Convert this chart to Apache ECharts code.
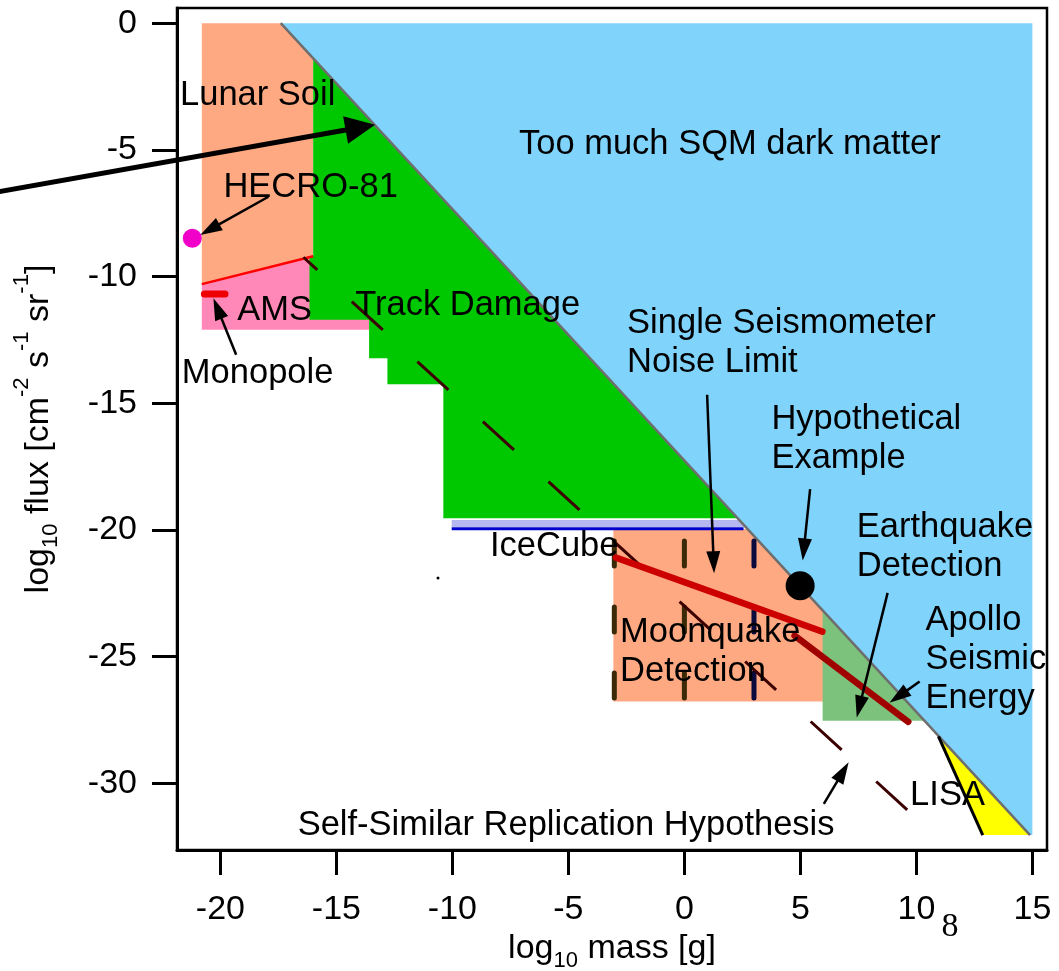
<!DOCTYPE html>
<html>
<head>
<meta charset="utf-8">
<script src="https://cdn.jsdelivr.net/npm/echarts@6/dist/echarts.min.js"></script>
<style>
  html, body { margin: 0; padding: 0; background: #fff; }
  #chart { width: 1059px; height: 971px; }
</style>
</head>
<body>
<div id="chart"></div>
<script>
// Strangelet (SQM) flux limits: log10 flux vs log10 mass
const FONT = '"Liberation Sans", Arial, sans-serif';

const X_TICKS = [-20, -15, -10, -5, 0, 5, 10, 15];
const Y_TICKS = [-30, -25, -20, -15, -10, -5, 0];

// Region outlines, points are [log10 mass (g), log10 flux]
const SQM_DARK_MATTER = [[-17.4, 0], [15, 0], [15, -32.05], [14.9, -32.05]];
const SQM_LIMIT_LINE = [[-17.4, 0], [14.9, -32.05]];
const AMS_BAND = [[-20.8, -10.3], [-16, -9.2], [-13.59, -9.2], [-13.59, -12.1], [-20.8, -12.1]];
const LUNAR_SOIL = [[-20.8, 0], [-17.4, 0], [-16, -1.39], [-16, -9.2], [-20.8, -10.3]];
const TRACK_DAMAGE = [
  [-16, -1.39], [2.29, -19.54], [-10.39, -19.54], [-10.39, -14.25], [-12.8, -14.25],
  [-12.8, -13.23], [-13.59, -13.23], [-13.59, -11.71], [-16.16, -11.71], [-16.16, -9.25], [-16, -9.2]
];
const ICECUBE_BAND = [[-10.03, -19.61], [2.36, -19.61], [2.64, -19.89], [-10.03, -19.89]];
const ICECUBE_LINE = [[-10.03, -19.96], [2.55, -19.96]];
const MOONQUAKE = [[-3.06, -19.97], [2.73, -19.97], [6, -23.22], [6, -26.78], [-3.06, -26.78]];
const EARTHQUAKE = [[5.96, -23.18], [10.35, -27.54], [5.96, -27.54]];
const LISA = [[10.95, -28.15], [12.86, -32.05], [14.9, -32.05]];
const LISA_EDGE = [[10.95, -28.15], [12.86, -32.05]];

// Limit lines
const LUNAR_SOIL_LIMIT = [[-20.8, -10.3], [-16, -9.2]];
const MONOPOLE_AMS = [[-20.69, -10.69], [-19.8, -10.69]];
const SEISMOMETER_NOISE = [[-2.95, -21.1], [5.95, -24.02]];
const APOLLO_ENERGY = [[4.75, -24.18], [9.65, -27.58]];
const SELF_SIMILAR = [[-16.42, -9.24], [9.61, -31.06]];

// Moonquake detection columns (mass positions) and their flux span
const MOONQUAKE_COLUMNS = [-3.02, 0, 3.0];
const COLUMN_SPAN = [-20.44, -26.64];

// Points
const HECRO_81 = [[-21.21, -8.49]];
const HYPOTHETICAL = [[4.99, -22.21]];
const STRAY_DOT = [[-10.62, -21.9]];

// Callout arrows [from, to]
const BIG_ARROW = [[-31, -6.89], [-13.33, -4.01]];
const CALLOUT_ARROWS = [
  [[-17.93, -6.85], [-20.87, -8.36]],   // HECRO-81
  [[-19.32, -13.09], [-20.3, -10.86]],  // Monopole
  [[0.98, -14.67], [1.28, -21.71]],     // Single seismometer
  [[5.42, -18.39], [5.1, -21.21]],      // Hypothetical example
  [[8.76, -22.49], [7.43, -27.41]],     // Earthquake detection
  [[10.14, -25.99], [8.84, -26.83]],    // Apollo seismic energy
  [[6.01, -30.82], [7.08, -29.18]]      // Self-similar replication
];

// Text labels: [text, mass, flux] (left edge, vertical middle)
const LABELS = [
  ['Lunar Soil', -21.74, -2.87],
  ['Too much SQM dark matter', -7.13, -4.77],
  ['HECRO-81', -19.87, -6.48],
  ['AMS', -19.27, -11.33],
  ['Monopole', -21.66, -13.82],
  ['Track Damage', -14.19, -11.16],
  ['Single Seismometer\nNoise Limit', -2.47, -12.62],
  ['Hypothetical\nExample', 3.75, -16.43],
  ['Earthquake\nDetection', 7.43, -20.69],
  ['Apollo\nSeismic\nEnergy', 10.39, -25.12],
  ['IceCube', -8.38, -20.66],
  ['Moonquake\nDetection', -2.77, -24.83],
  ['LISA', 9.73, -30.5],
  ['Self-Similar Replication Hypothesis', -16.67, -31.66]
];
const SERIF_MARK = [['8', 11.45, -35.7]];

function area(points, fill) {
  return {
    type: 'custom', coordinateSystem: 'cartesian2d', silent: true, clip: false,
    data: [points[0]],
    renderItem: (params, api) => ({
      type: 'polygon',
      shape: { points: points.map(p => api.coord(p)) },
      style: { fill: fill }
    })
  };
}

function segment(points, style) {
  return {
    type: 'custom', coordinateSystem: 'cartesian2d', silent: true, clip: false,
    data: [points[0]],
    renderItem: (params, api) => ({
      type: 'polyline',
      shape: { points: points.map(p => api.coord(p)) },
      style: Object.assign({ fill: null }, style)
    })
  };
}

function arrowGroup(api, from, to, width, headLen, headHalf) {
  const a = api.coord(from), b = api.coord(to);
  const dx = b[0] - a[0], dy = b[1] - a[1];
  const L = Math.hypot(dx, dy), ux = dx / L, uy = dy / L;
  const bx = b[0] - ux * headLen, by = b[1] - uy * headLen;
  return {
    type: 'group',
    children: [
      { type: 'line', shape: { x1: a[0], y1: a[1], x2: bx + ux * 3, y2: by + uy * 3 },
        style: { stroke: '#000', lineWidth: width } },
      { type: 'polygon',
        shape: { points: [[b[0], b[1]], [bx - uy * headHalf, by + ux * headHalf], [bx + uy * headHalf, by - ux * headHalf]] },
        style: { fill: '#000' } }
    ]
  };
}

function textSeries(list, font, align) {
  return {
    type: 'custom', coordinateSystem: 'cartesian2d', silent: true, clip: false,
    data: list.map(l => [l[1], l[2]]),
    renderItem: (params, api) => {
      const item = list[params.dataIndex];
      const p = api.coord([item[1], item[2]]);
      return {
        type: 'text', x: p[0], y: p[1],
        style: {
          text: item[0], font: font, fill: '#000',
          align: align, verticalAlign: 'middle',
          textAlign: align, textVerticalAlign: 'middle',
          lineHeight: 39
        }
      };
    }
  };
}

// Axis titles with raised / lowered indices
const TITLE_RICH = {
  n: { fontSize: 34, fontFamily: FONT, color: '#000', lineHeight: 56 },
  sub: { fontSize: 22, fontFamily: FONT, color: '#000', lineHeight: 32, height: 32, verticalAlign: 'bottom' },
  sup: { fontSize: 22, fontFamily: FONT, color: '#000', lineHeight: 22, height: 22, verticalAlign: 'top' }
};

const axisCommon = {
  type: 'value',
  splitLine: { show: false },
  axisLine: { show: true, onZero: false, lineStyle: { color: '#000', width: 3 } },
  nameLocation: 'middle',
  nameTextStyle: { rich: TITLE_RICH }
};

const series = [
  area(SQM_DARK_MATTER, '#80d4fc'),
  area(AMS_BAND, '#ff88b8'),
  area(LUNAR_SOIL, '#ffa982'),
  area(TRACK_DAMAGE, '#00c800'),
  area(ICECUBE_BAND, '#b6b6f0'),
  area(MOONQUAKE, '#ffa982'),
  area(EARTHQUAKE, '#7cc27c'),
  area(LISA, '#ffff00'),
  segment(SQM_LIMIT_LINE, { stroke: '#6e6e6e', lineWidth: 2.5 }),
  segment(LISA_EDGE, { stroke: '#000', lineWidth: 3 }),
  segment(ICECUBE_LINE, { stroke: '#0000cc', lineWidth: 3 }),
  segment(LUNAR_SOIL_LIMIT, { stroke: '#ff0000', lineWidth: 2.5 }),
  segment(MONOPOLE_AMS, { stroke: '#ee0000', lineWidth: 7, lineCap: 'round' }),
  {
    type: 'custom', coordinateSystem: 'cartesian2d', silent: true, clip: false,
    data: MOONQUAKE_COLUMNS.map(x => [x, COLUMN_SPAN[0]]),
    renderItem: (params, api) => {
      const x = MOONQUAKE_COLUMNS[params.dataIndex];
      const a = api.coord([x, COLUMN_SPAN[0]]), b = api.coord([x, COLUMN_SPAN[1]]);
      return {
        type: 'line', shape: { x1: a[0], y1: a[1], x2: b[0], y2: b[1] },
        style: { stroke: params.dataIndex === 2 ? '#0a0a3c' : '#3a2a08', lineWidth: 5, lineCap: 'round', lineDash: [25, 41] }
      };
    }
  },
  segment(SELF_SIMILAR, { stroke: '#3c0000', lineWidth: 3, lineDash: [42, 46.86], lineDashOffset: 23.26 }),
  segment(SEISMOMETER_NOISE, { stroke: '#cc0000', lineWidth: 6.5, lineCap: 'round' }),
  segment(APOLLO_ENERGY, { stroke: '#a00000', lineWidth: 6.5, lineCap: 'round' }),
  {
    type: 'scatter', silent: true, clip: false, symbolSize: 19,
    itemStyle: { color: '#f000c8', opacity: 1 }, data: HECRO_81
  },
  {
    type: 'scatter', silent: true, clip: false, symbolSize: 29,
    itemStyle: { color: '#000', opacity: 1 }, data: HYPOTHETICAL
  },
  {
    type: 'scatter', silent: true, clip: false, symbolSize: 3,
    itemStyle: { color: '#000', opacity: 1 }, data: STRAY_DOT
  },
  {
    type: 'custom', coordinateSystem: 'cartesian2d', silent: true, clip: false,
    data: [BIG_ARROW[1]],
    renderItem: (params, api) => arrowGroup(api, BIG_ARROW[0], BIG_ARROW[1], 5, 30, 14)
  },
  {
    type: 'custom', coordinateSystem: 'cartesian2d', silent: true, clip: false,
    data: CALLOUT_ARROWS.map(a => a[1]),
    renderItem: (params, api) => {
      const a = CALLOUT_ARROWS[params.dataIndex];
      return arrowGroup(api, a[0], a[1], 2.5, 22, 7);
    }
  },
  textSeries(LABELS, '34.5px ' + FONT, 'left'),
  textSeries(SERIF_MARK, '34px "Liberation Serif", "Times New Roman", serif', 'center')
];

const chart = echarts.init(document.getElementById('chart'), null, { renderer: 'canvas' });
chart.setOption({
  animation: false,
  backgroundColor: '#fff',
  grid: {
    left: 177, top: 8, right: 12, bottom: 121, containLabel: false, outerBoundsMode: 'none',
    show: true, borderColor: '#000', borderWidth: 2.5, backgroundColor: 'transparent'
  },
  xAxis: Object.assign({}, axisCommon, {
    min: -21.87, max: 15.63,
    axisTick: { show: true, inside: false, length: 25, customValues: X_TICKS, lineStyle: { color: '#000', width: 3 } },
    axisLabel: { customValues: X_TICKS, fontSize: 34, fontFamily: FONT, color: '#000', margin: 43 },
    name: '{n|log}{sub|10}{n| mass [g]}',
    nameGap: 68
  }),
  yAxis: Object.assign({}, axisCommon, {
    min: -32.64, max: 0.6,
    axisTick: { show: true, inside: false, length: 25, customValues: Y_TICKS, lineStyle: { color: '#000', width: 3 } },
    axisLabel: { customValues: Y_TICKS, fontSize: 34, fontFamily: FONT, color: '#000', margin: 40 },
    name: '{n|log}{sub|10}{n| flux [cm}{sup|-2}{n| s}{sup|-1}{n| sr}{sup|-1}{n|]}',
    nameGap: 110
  }),
  series: series
});
</script>
</body>
</html>
